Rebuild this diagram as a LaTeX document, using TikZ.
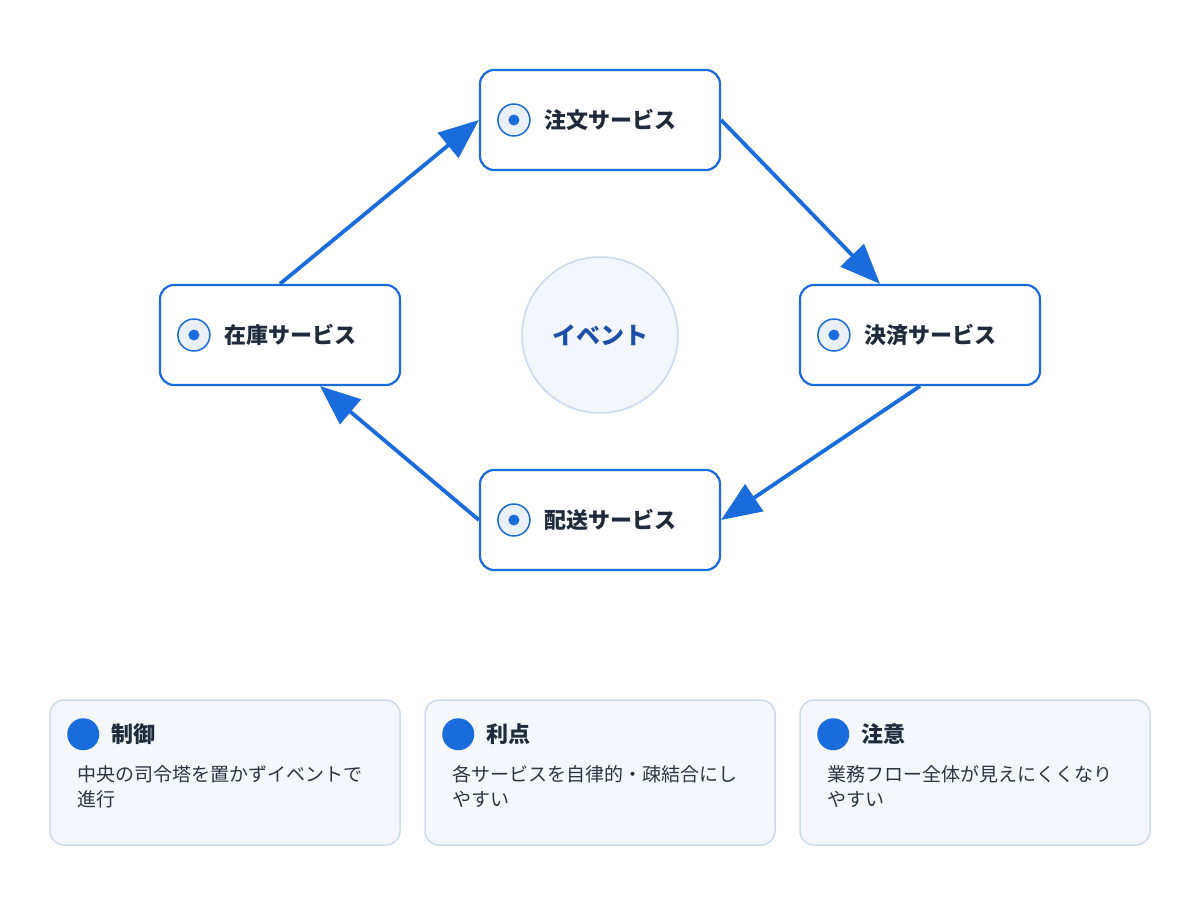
\documentclass[tikz,border=0pt]{standalone}
\usepackage{fontspec}
\newfontfamily\jp{Noto Sans CJK JP}
\usetikzlibrary{arrows.meta}
\definecolor{flowblue}{RGB}{26,107,220}
\definecolor{iconfill}{RGB}{234,241,252}
\definecolor{darktext}{RGB}{31,42,61}
\definecolor{bodytext}{RGB}{45,53,68}
\definecolor{evfill}{RGB}{243,247,253}
\definecolor{evline}{RGB}{200,216,238}
\definecolor{evtext}{RGB}{27,79,168}
\definecolor{cardfill}{RGB}{244,247,252}
\definecolor{cardline}{RGB}{204,218,236}

\begin{document}
\begin{tikzpicture}[x=1pt,y=-1pt,
  svc/.style={draw=flowblue, line width=2.2pt, rounded corners=14pt, fill=white,
    minimum width=240pt, minimum height=100pt},
  ico/.style={circle, draw=flowblue, line width=1.5pt, fill=iconfill,
    minimum size=32pt, inner sep=0pt},
  dot/.style={circle, fill=flowblue, minimum size=11pt, inner sep=0pt},
  svclabel/.style={anchor=west, inner sep=0pt, text=darktext,
    font={\jp\bfseries\fontsize{22pt}{26pt}\selectfont}},
  flow/.style={draw=flowblue, line width=3.8pt, -{Triangle[length=40pt,width=32pt]}},
  card/.style={draw=cardline, line width=1.5pt, fill=cardfill, rounded corners=14pt,
    minimum width=350pt, minimum height=145pt},
  bullet/.style={circle, fill=flowblue, minimum size=32pt, inner sep=0pt},
  cardtitle/.style={anchor=west, inner sep=0pt, text=darktext,
    font={\jp\bfseries\fontsize{22pt}{26pt}\selectfont}},
  cardtext/.style={anchor=west, inner sep=0pt, align=left, text=bodytext,
    font={\jp\fontsize{19pt}{25pt}\selectfont}}]
\fill [white] (0,0) rectangle (1200,900);
\useasboundingbox (0,0) rectangle (1200,900);

\node [circle, draw=evline, line width=1.5pt, fill=evfill, minimum size=156pt, text=evtext,
  font={\jp\bfseries\fontsize{24pt}{28pt}\selectfont}] (event) at (600,335) {イベント};

\node [svc] (order) at (600,120) {};
\node [svc] (settle) at (920,335) {};
\node [svc] (ship) at (600,520) {};
\node [svc] (stock) at (280,335) {};
\foreach \n/\t in {order/注文サービス, settle/決済サービス, ship/配送サービス, stock/在庫サービス} {
  \node [ico] (\n-ico) at ([xshift=35pt]\n.west) {};
  \node [dot] at (\n-ico) {};
  \node [svclabel] (\n-txt) at ([xshift=65pt]\n.west) {\t};
}

\path [flow] (order.east) -- ([xshift=-40pt]settle.north);
\path [flow] (settle.south) -- (ship.east);
\path [flow] (ship.west) -- ([xshift=40pt]stock.south);
\path [flow] (stock.north) -- (order.west);

\foreach \i/\x/\h/\a/\b in {1/225/制御/中央の司令塔を置かずイベントで/進行,
    2/600/利点/各サービスを自律的・疎結合にし/やすい,
    3/975/注意/業務フロー全体が見えにくくなり/やすい} {
  \node [card] (card\i) at (\x,772.5) {};
  \node [bullet] (card\i-dot) at ([xshift=34pt,yshift=-35pt]card\i.north west) {};
  \node [cardtitle] at ([xshift=62pt,yshift=-35pt]card\i.north west) {\h};
  \node [cardtext] at ([xshift=28pt,yshift=-87.5pt]card\i.north west) {\a\\\b};
}
\end{tikzpicture}
\end{document}
